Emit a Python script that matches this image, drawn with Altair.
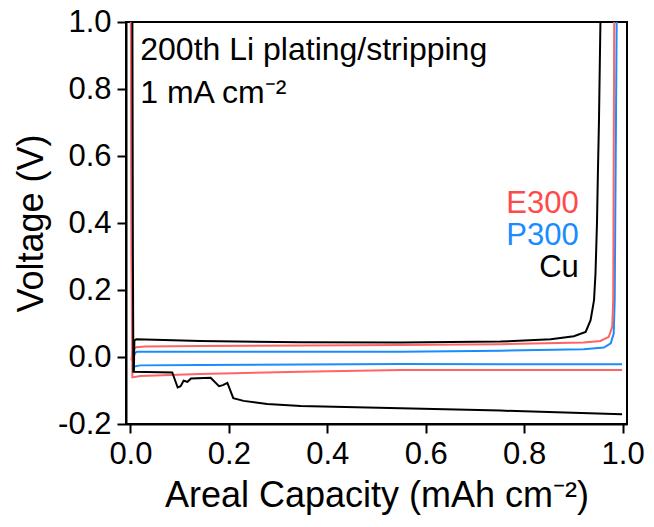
import altair as alt
import pandas as pd

# ---- data ----
cu_plate_c = [0.004, 0.005, 0.006, 0.085, 0.096, 0.102, 0.108, 0.116, 0.123, 0.163, 0.180, 0.188, 0.197, 0.209, 0.230, 0.278, 0.346, 0.549, 0.752, 0.999]
cu_plate_v = [1.0, 0.3, -0.044, -0.046, -0.091, -0.087, -0.071, -0.074, -0.064, -0.062, -0.087, -0.084, -0.077, -0.123, -0.131, -0.140, -0.146, -0.153, -0.160, -0.171]
cu_strip_c = [0.007, 0.008, 0.012, 0.142, 0.346, 0.549, 0.752, 0.854, 0.901, 0.925, 0.935, 0.942, 0.945, 0.948, 0.950, 0.952, 0.955]
cu_strip_v = [-0.044, 0.050, 0.053, 0.048, 0.044, 0.043, 0.046, 0.053, 0.062, 0.075, 0.110, 0.170, 0.250, 0.400, 0.560, 0.700, 1.0]

e300_plate_c = [0.001, 0.002, 0.004, 0.020, 0.142, 0.346, 0.549, 0.999]
e300_plate_v = [1.0, 0.3, -0.061, -0.057, -0.051, -0.044, -0.039, -0.039]
e300_strip_c = [0.002, 0.004, 0.007, 0.012, 0.030, 0.142, 0.549, 0.752, 0.921, 0.955, 0.972, 0.979, 0.981, 0.983]
e300_strip_v = [-0.010, 0.015, 0.026, 0.029, 0.031, 0.033, 0.036, 0.038, 0.043, 0.048, 0.060, 0.090, 0.170, 1.0]

p300_plate_c = [0.001, 0.003, 0.006, 0.020, 0.142, 0.549, 0.999]
p300_plate_v = [1.0, 0.3, -0.029, -0.025, -0.024, -0.021, -0.022]
p300_strip_c = [0.006, 0.008, 0.013, 0.142, 0.549, 0.752, 0.921, 0.962, 0.976, 0.982, 0.984, 0.988]
p300_strip_v = [-0.010, 0.009, 0.016, 0.016, 0.016, 0.019, 0.023, 0.028, 0.041, 0.070, 0.170, 1.0]

materials = ["P300", "E300", "Cu"]
mat_colors = ["#1a8cff", "#ff6464", "#000000"]
label_colors = ["#1a8cff", "#ff4a4a", "#000000"]

x_ticks = [0.0, 0.2, 0.4, 0.6, 0.8, 1.0]
y_ticks = [-0.2, 0.0, 0.2, 0.4, 0.6, 0.8, 1.0]

note_texts = ["200th Li plating/stripping", "1 mA cm\u207b\u00b2"]
note_x = [0.020, 0.020]
note_y = [0.886, 0.757]

legend_texts = ["E300", "P300", "Cu"]
legend_x = [0.911, 0.911, 0.911]
legend_y = [0.431, 0.334, 0.238]

# ---- build table ----
series = [
    ("P300", "plating", p300_plate_c, p300_plate_v),
    ("P300", "stripping", p300_strip_c, p300_strip_v),
    ("E300", "plating", e300_plate_c, e300_plate_v),
    ("E300", "stripping", e300_strip_c, e300_strip_v),
    ("Cu", "plating", cu_plate_c, cu_plate_v),
    ("Cu", "stripping", cu_strip_c, cu_strip_v),
]
rows = []
for mat, kind, cs, vs in series:
    for i, (c, v) in enumerate(zip(cs, vs)):
        rows.append(dict(material=mat, curve=f"{mat} {kind}", idx=i, cap=c, volt=v))
df = pd.DataFrame(rows)

notes = pd.DataFrame(dict(text=note_texts, cap=note_x, volt=note_y))
legend = pd.DataFrame(dict(text=legend_texts, cap=legend_x, volt=legend_y,
                           material=legend_texts))

FONT = "Liberation Sans"
xscale = alt.Scale(domain=[-0.009, 1.009], nice=False, zero=False)
yscale = alt.Scale(domain=[-0.2, 1.0], nice=False, zero=False)

xaxis = alt.Axis(values=x_ticks, title="Areal Capacity (mAh cm\u207b\u00b2)",
                 labelExpr="format(datum.value, '.1f')", grid=False)
yaxis = alt.Axis(values=y_ticks, title="Voltage (V)",
                 labelExpr="datum.value < 0 ? '-' + format(-datum.value, '.1f') : format(datum.value, '.1f')",
                 grid=False)


def line_layer(mat, color):
    return alt.Chart(df).transform_filter(alt.datum.material == mat).mark_line(
        color=color, strokeWidth=2, clip=True
    ).encode(
        x=alt.X("cap:Q", scale=xscale, axis=xaxis),
        y=alt.Y("volt:Q", scale=yscale, axis=yaxis),
        detail="curve:N",
        order="idx:Q",
    )


layers = [line_layer(m, c) for m, c in zip(materials, mat_colors)]

note_layer = alt.Chart(notes).mark_text(
    align="left", baseline="alphabetic", font=FONT, fontSize=32, color="black"
).encode(x=alt.X("cap:Q", scale=xscale), y=alt.Y("volt:Q", scale=yscale), text="text:N")

legend_layer = alt.Chart(legend).mark_text(
    align="right", baseline="alphabetic", font=FONT, fontSize=31
).encode(
    x=alt.X("cap:Q", scale=xscale), y=alt.Y("volt:Q", scale=yscale), text="text:N",
    color=alt.Color("material:N", scale=alt.Scale(domain=materials, range=label_colors), legend=None),
)

chart = alt.layer(*layers, note_layer, legend_layer).properties(
    width=501, height=402,
    autosize=alt.AutoSizeParams(type="none"),
    padding={"left": 118, "top": 14, "right": 19, "bottom": 95},
).configure_view(
    stroke="black", strokeWidth=2
).configure_axis(
    domainColor="black", domainWidth=2, tickColor="black", tickWidth=2, tickSize=9,
    labelFont=FONT, labelFontSize=31, labelColor="black", labelPadding=6,
    titleFont=FONT, titleFontSize=36, titleFontWeight="normal", titleColor="black",
).configure_axisX(titlePadding=9).configure_axisY(titlePadding=7)

chart.save("out.html", embed_options={"renderer": "svg", "actions": False})
